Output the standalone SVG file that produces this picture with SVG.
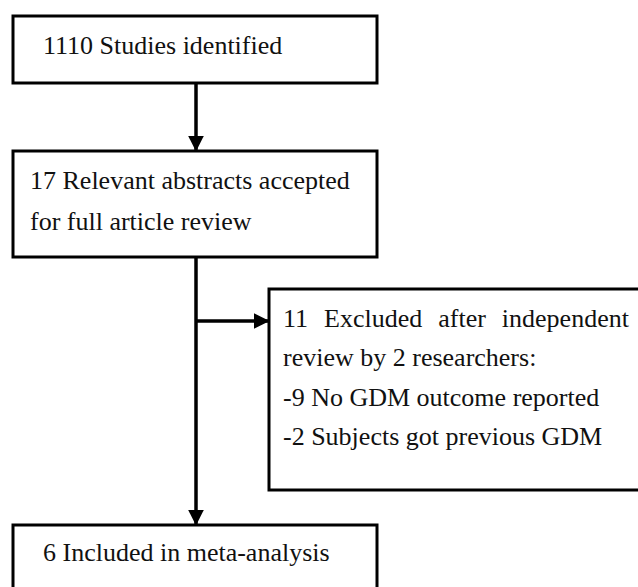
<svg xmlns="http://www.w3.org/2000/svg" width="638" height="587" viewBox="0 0 638 587">
<defs>
<style>
.box{fill:#fff;stroke:#000;stroke-width:3}
.t{font-family:"Liberation Serif","Times New Roman",serif;font-size:26px;fill:#111}
.c{stroke:#000;stroke-width:3.5;fill:none}
</style>
<marker id="ah" viewBox="0 0 10 10" refX="9" refY="5" markerWidth="4.5" markerHeight="4.5" markerUnits="strokeWidth" orient="auto">
<path d="M0,0 L10,5 L0,10 z" fill="#000"/>
</marker>
</defs>
<rect width="638" height="587" fill="#fff"/>
<g id="connectors">
<line class="c" x1="196" y1="83" x2="196" y2="150" marker-end="url(#ah)"/>
<line class="c" x1="196" y1="258" x2="196" y2="524" marker-end="url(#ah)"/>
<line class="c" x1="196" y1="321" x2="268" y2="321" marker-end="url(#ah)"/>
</g>
<g id="n1">
<rect class="box" x="13" y="16" width="364" height="67"/>
<text class="t" x="43" y="54">1110 Studies identified</text>
</g>
<g id="n2">
<rect class="box" x="13" y="151" width="364" height="106"/>
<text class="t" x="30" y="189">17 Relevant abstracts accepted</text>
<text class="t" x="30" y="230">for full article review</text>
</g>
<g id="n3">
<rect class="box" x="269" y="289" width="380" height="201"/>
<text class="t" x="283" y="327" word-spacing="9.5">11 Excluded after independent</text>
<text class="t" x="283" y="366">review by 2 researchers:</text>
<text class="t" x="283" y="406">-9 No GDM outcome reported</text>
<text class="t" x="283" y="445">-2 Subjects got previous GDM</text>
</g>
<g id="n4">
<rect class="box" x="13" y="525" width="364" height="80"/>
<text class="t" x="43" y="561">6 Included in meta-analysis</text>
</g>
</svg>
